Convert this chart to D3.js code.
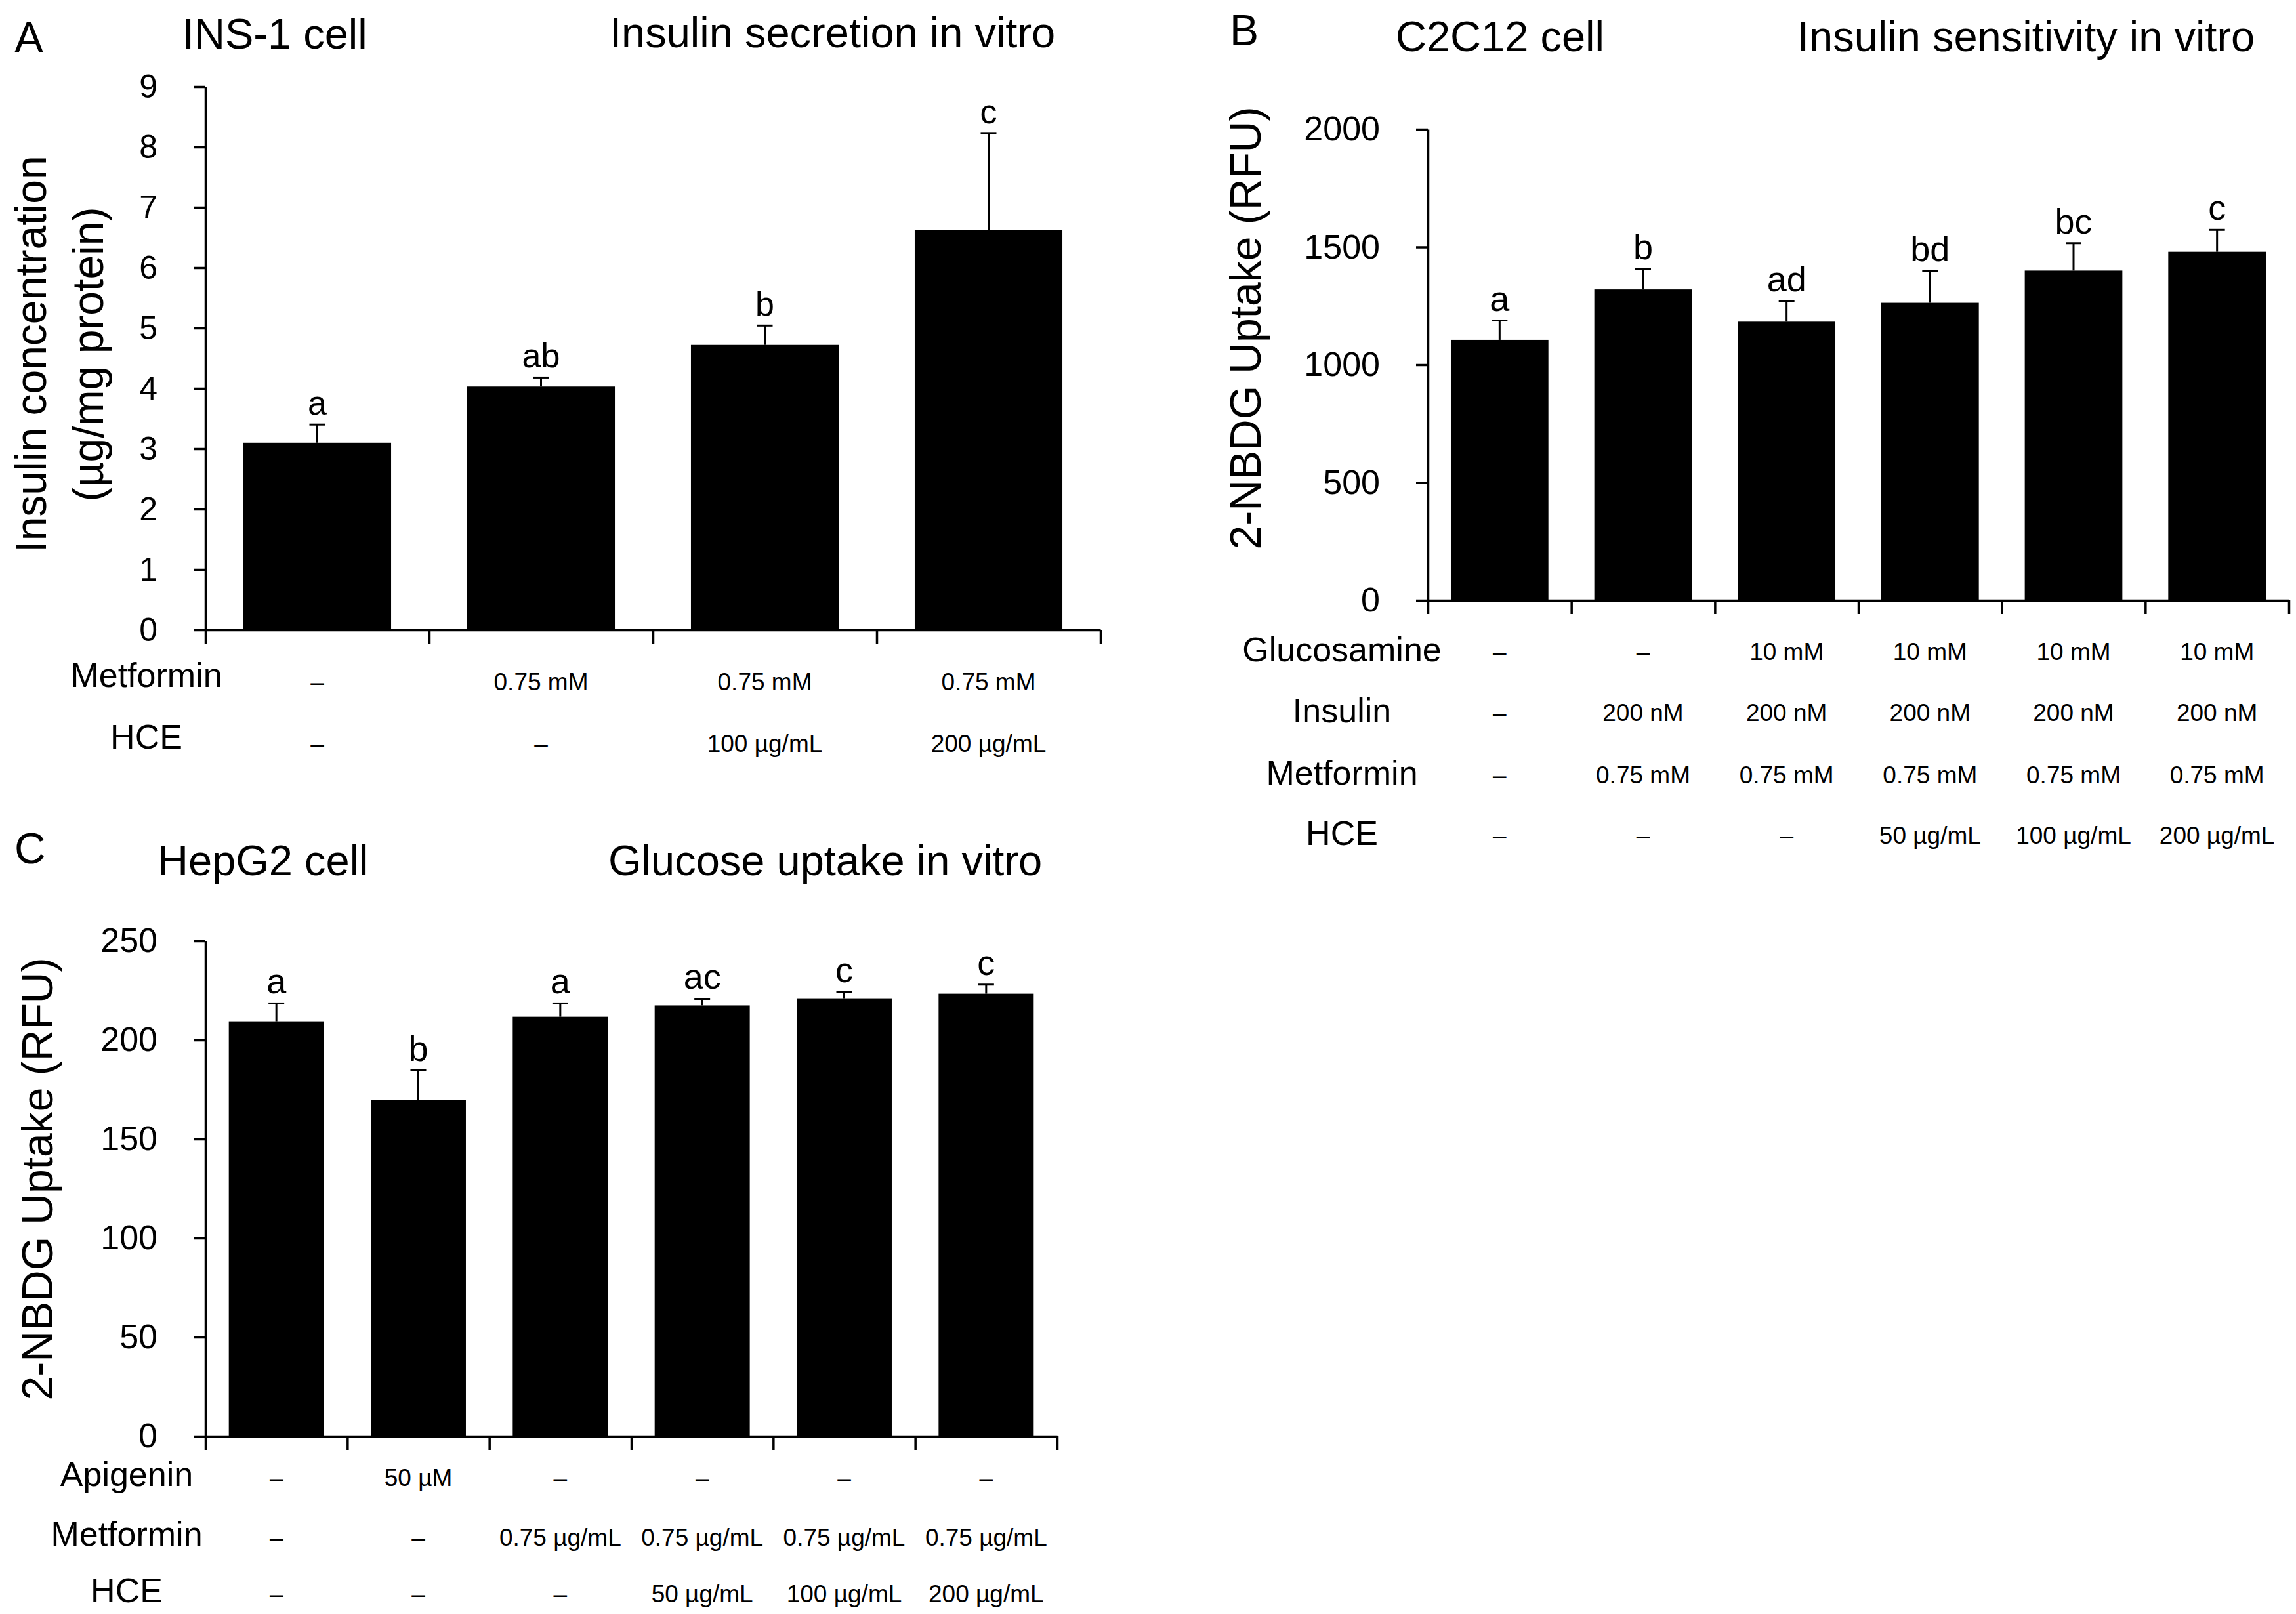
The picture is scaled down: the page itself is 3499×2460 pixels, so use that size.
<!DOCTYPE html>
<html>
<head>
<meta charset="utf-8">
<script src="https://cdn.jsdelivr.net/npm/d3@7"></script>
<style>
body { margin: 0; background: #fff; }
svg { display: block; }
text { font-family: "Liberation Sans", Arial, sans-serif; fill: #000; }
</style>
</head>
<body>
<svg id="chart" width="3499" height="2460"></svg>
<script>
// ---- Panel A: INS-1 cell, insulin secretion ----
var insMeans = [3.10, 4.03, 4.72, 6.63];
var insSD = [0.30, 0.15, 0.32, 1.60];
var insLetters = ["a", "ab", "b", "c"];
var insTicks = [0, 1, 2, 3, 4, 5, 6, 7, 8, 9];
var insRowLabels = ["Metformin", "HCE"];
var insMetformin = ["–", "0.75 mM", "0.75 mM", "0.75 mM"];
var insHCE = ["–", "–", "100 µg/mL", "200 µg/mL"];

// ---- Panel B: C2C12 cell, insulin sensitivity ----
var c2Means = [1106, 1320, 1183, 1263, 1400, 1480];
var c2SD = [82, 87, 87, 135, 116, 93];
var c2Letters = ["a", "b", "ad", "bd", "bc", "c"];
var c2Ticks = [0, 500, 1000, 1500, 2000];
var c2RowLabels = ["Glucosamine", "Insulin", "Metformin", "HCE"];
var c2Glucosamine = ["–", "–", "10 mM", "10 mM", "10 mM", "10 mM"];
var c2Insulin = ["–", "200 nM", "200 nM", "200 nM", "200 nM", "200 nM"];
var c2Metformin = ["–", "0.75 mM", "0.75 mM", "0.75 mM", "0.75 mM", "0.75 mM"];
var c2HCE = ["–", "–", "–", "50 µg/mL", "100 µg/mL", "200 µg/mL"];

// ---- Panel C: HepG2 cell, glucose uptake ----
var hepMeans = [209.4, 169.6, 211.7, 217.4, 221.0, 223.3];
var hepSD = [9.0, 15.0, 6.7, 3.3, 3.3, 4.6];
var hepLetters = ["a", "b", "a", "ac", "c", "c"];
var hepTicks = [0, 50, 100, 150, 200, 250];
var hepRowLabels = ["Apigenin", "Metformin", "HCE"];
var hepApigenin = ["–", "50 µM", "–", "–", "–", "–"];
var hepMetformin = ["–", "–", "0.75 µg/mL", "0.75 µg/mL", "0.75 µg/mL", "0.75 µg/mL"];
var hepHCE = ["–", "–", "–", "50 µg/mL", "100 µg/mL", "200 µg/mL"];

var FONT = '"Liberation Sans", Arial, sans-serif';
var svg = d3.select("#chart");
svg.append("rect").attr("width", 3499).attr("height", 2460).attr("fill", "#fff");

function drawPanel(p) {
    var g = svg.append("g");
    var n = p.means.length;

    var x = d3.scaleBand()
        .domain(d3.range(n))
        .range([p.x0, p.x1])
        .paddingInner(p.pad)
        .paddingOuter(p.pad / 2);
    var y = d3.scaleLinear()
        .domain([0, p.ticks[p.ticks.length - 1]])
        .range([p.yBottom, p.yTop]);
    var cx = function(i) { return x(i) + x.bandwidth() / 2; };

    // bars
    g.selectAll("rect.bar")
        .data(p.means)
        .join("rect")
        .attr("class", "bar")
        .attr("x", function(d, i) { return x(i); })
        .attr("width", x.bandwidth())
        .attr("y", function(d) { return y(d); })
        .attr("height", function(d) { return y(0) - y(d); })
        .attr("fill", "#000");

    // error bars (upper only)
    var err = g.selectAll("g.err")
        .data(p.means)
        .join("g")
        .attr("class", "err");
    err.append("line")
        .attr("x1", function(d, i) { return cx(i); })
        .attr("x2", function(d, i) { return cx(i); })
        .attr("y1", function(d) { return y(d); })
        .attr("y2", function(d, i) { return y(d + p.sd[i]); })
        .attr("stroke", "#000").attr("stroke-width", 3);
    err.append("line")
        .attr("x1", function(d, i) { return cx(i) - 12; })
        .attr("x2", function(d, i) { return cx(i) + 12; })
        .attr("y1", function(d, i) { return y(d + p.sd[i]); })
        .attr("y2", function(d, i) { return y(d + p.sd[i]); })
        .attr("stroke", "#000").attr("stroke-width", 3);

    // significance letters
    g.selectAll("text.letter")
        .data(p.letters)
        .join("text")
        .attr("class", "letter")
        .attr("x", function(d, i) { return cx(i); })
        .attr("y", function(d, i) { return y(p.means[i] + p.sd[i]) - 15; })
        .attr("text-anchor", "middle")
        .style("font-size", p.letterFont + "px")
        .text(function(d) { return d; });

    // y axis
    var ya = g.append("g")
        .attr("transform", "translate(" + p.x0 + ",0)")
        .call(d3.axisLeft(y).tickValues(p.ticks).tickFormat(d3.format("d"))
            .tickSize(18).tickPadding(55).tickSizeOuter(0));
    ya.attr("font-family", FONT).attr("font-size", p.tickFont);
    ya.select(".domain").attr("stroke-width", 3.5);
    ya.selectAll(".tick line").attr("stroke-width", 3.5);

    // x axis: ticks at group boundaries
    var xi = d3.scaleLinear().domain([0, n]).range([p.x0, p.x1]);
    var xa = g.append("g")
        .attr("transform", "translate(0," + p.yBottom + ")")
        .call(d3.axisBottom(xi).tickValues(d3.range(n + 1)).tickSize(21).tickSizeOuter(0).tickFormat(""));
    xa.select(".domain").attr("stroke-width", 3.5);
    xa.selectAll(".tick line").attr("stroke-width", 3.5);

    // treatment rows
    p.rowLabels.forEach(function(lab, r) {
        g.append("text")
            .attr("x", p.labelX)
            .attr("y", p.rowY[r])
            .attr("text-anchor", "middle")
            .attr("dominant-baseline", "central")
            .style("font-size", "52px")
            .text(lab);
        g.selectAll("text.row" + r)
            .data(p.rows[r])
            .join("text")
            .attr("class", "row" + r)
            .attr("x", function(d, i) { return cx(i); })
            .attr("y", p.rowY[r] + p.valOffset)
            .attr("text-anchor", "middle")
            .attr("dominant-baseline", "central")
            .style("font-size", "37px")
            .text(function(d) { return d; });
    });

    // y axis title
    p.yLabel.forEach(function(t, k) {
        g.append("text")
            .attr("transform", "translate(" + p.yLabelX[k] + "," + p.yLabelY + ") rotate(-90)")
            .attr("text-anchor", "middle")
            .style("font-size", "66px")
            .text(t);
    });

    // panel letter and titles
    g.append("text").attr("x", p.letterPos[0]).attr("y", p.letterPos[1])
        .style("font-size", "66px").text(p.panel);
    g.append("text").attr("x", p.cellPos[0]).attr("y", p.cellPos[1])
        .style("font-size", "65px").text(p.cell);
    g.append("text").attr("x", p.titlePos[0]).attr("y", p.titlePos[1])
        .style("font-size", "65px").text(p.title);
}

drawPanel({
    panel: "A", cell: "INS-1 cell", title: "Insulin secretion in vitro",
    letterPos: [22, 80], cellPos: [278, 74], titlePos: [929, 72],
    means: insMeans, sd: insSD, letters: insLetters, ticks: insTicks,
    rowLabels: insRowLabels, rows: [insMetformin, insHCE],
    x0: 313, x1: 1677, yTop: 132, yBottom: 960, pad: 0.34,
    tickFont: 50, letterFont: 52,
    labelX: 223, rowY: [1029, 1123], valOffset: 10,
    yLabel: ["Insulin concentration", "(µg/mg protein)"], yLabelX: [70, 157], yLabelY: 540
});

drawPanel({
    panel: "B", cell: "C2C12 cell", title: "Insulin sensitivity in vitro",
    letterPos: [1874, 69], cellPos: [2127, 78], titlePos: [2739, 78],
    means: c2Means, sd: c2SD, letters: c2Letters, ticks: c2Ticks,
    rowLabels: c2RowLabels, rows: [c2Glucosamine, c2Insulin, c2Metformin, c2HCE],
    x0: 2176, x1: 3488, yTop: 197, yBottom: 915, pad: 0.32,
    tickFont: 52, letterFont: 54,
    labelX: 2045, rowY: [990, 1083, 1178, 1270], valOffset: 3,
    yLabel: ["2-NBDG Uptake (RFU)"], yLabelX: [1921], yLabelY: 500
});

drawPanel({
    panel: "C", cell: "HepG2 cell", title: "Glucose uptake in vitro",
    letterPos: [22, 1316], cellPos: [240, 1334], titlePos: [927, 1334],
    means: hepMeans, sd: hepSD, letters: hepLetters, ticks: hepTicks,
    rowLabels: hepRowLabels, rows: [hepApigenin, hepMetformin, hepHCE],
    x0: 313, x1: 1611, yTop: 1434, yBottom: 2189, pad: 0.33,
    tickFont: 52, letterFont: 54,
    labelX: 193, rowY: [2247, 2338, 2424], valOffset: 5,
    yLabel: ["2-NBDG Uptake (RFU)"], yLabelX: [80], yLabelY: 1797
});
</script>
</body>
</html>
